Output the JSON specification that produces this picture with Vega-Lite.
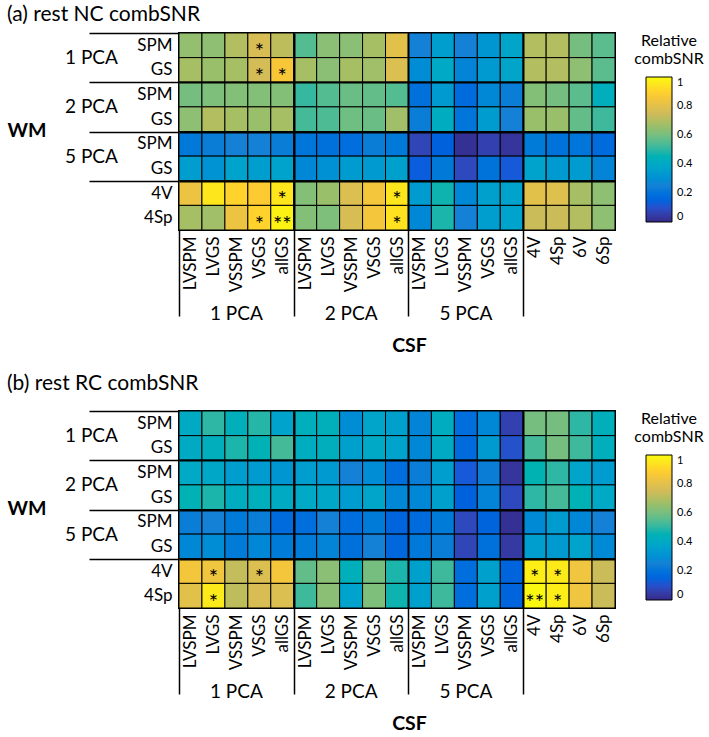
{
"$schema": "https://vega.github.io/schema/vega-lite/v6.json",
"padding": {"left": 6, "top": 3, "right": 0, "bottom": 0},
"config": {"font": "Lato", "view": {"stroke": "black", "strokeWidth": 2}, "axis": {"labelColor": "black", "titleColor": "black", "labelFont": "Lato", "titleFont": "Lato"}, "legend": {"labelColor": "black", "titleColor": "black"}},
"datasets": {"cells": [
{"p":"a","r":"1 PCA|SPM","c":"1 PCA|LVSPM","v":0.65},{"p":"a","r":"1 PCA|SPM","c":"1 PCA|LVGS","v":0.64},{"p":"a","r":"1 PCA|SPM","c":"1 PCA|VSSPM","v":0.70},{"p":"a","r":"1 PCA|SPM","c":"1 PCA|VSGS","v":0.77,"s":"*"},{"p":"a","r":"1 PCA|SPM","c":"1 PCA|allGS","v":0.72},
{"p":"a","r":"1 PCA|SPM","c":"2 PCA|LVSPM","v":0.55},{"p":"a","r":"1 PCA|SPM","c":"2 PCA|LVGS","v":0.63},{"p":"a","r":"1 PCA|SPM","c":"2 PCA|VSSPM","v":0.63},{"p":"a","r":"1 PCA|SPM","c":"2 PCA|VSGS","v":0.68},{"p":"a","r":"1 PCA|SPM","c":"2 PCA|allGS","v":0.80},
{"p":"a","r":"1 PCA|SPM","c":"5 PCA|LVSPM","v":0.25},{"p":"a","r":"1 PCA|SPM","c":"5 PCA|LVGS","v":0.35},{"p":"a","r":"1 PCA|SPM","c":"5 PCA|VSSPM","v":0.25},{"p":"a","r":"1 PCA|SPM","c":"5 PCA|VSGS","v":0.32},{"p":"a","r":"1 PCA|SPM","c":"5 PCA|allGS","v":0.38},
{"p":"a","r":"1 PCA|SPM","c":"other|4V","v":0.70},{"p":"a","r":"1 PCA|SPM","c":"other|4Sp","v":0.70},{"p":"a","r":"1 PCA|SPM","c":"other|6V","v":0.60},{"p":"a","r":"1 PCA|SPM","c":"other|6Sp","v":0.56},
{"p":"a","r":"1 PCA|GS","c":"1 PCA|LVSPM","v":0.68},{"p":"a","r":"1 PCA|GS","c":"1 PCA|LVGS","v":0.66},{"p":"a","r":"1 PCA|GS","c":"1 PCA|VSSPM","v":0.68},{"p":"a","r":"1 PCA|GS","c":"1 PCA|VSGS","v":0.76,"s":"*"},{"p":"a","r":"1 PCA|GS","c":"1 PCA|allGS","v":0.86,"s":"*"},
{"p":"a","r":"1 PCA|GS","c":"2 PCA|LVSPM","v":0.68},{"p":"a","r":"1 PCA|GS","c":"2 PCA|LVGS","v":0.63},{"p":"a","r":"1 PCA|GS","c":"2 PCA|VSSPM","v":0.68},{"p":"a","r":"1 PCA|GS","c":"2 PCA|VSGS","v":0.67},{"p":"a","r":"1 PCA|GS","c":"2 PCA|allGS","v":0.78},
{"p":"a","r":"1 PCA|GS","c":"5 PCA|LVSPM","v":0.29},{"p":"a","r":"1 PCA|GS","c":"5 PCA|LVGS","v":0.40},{"p":"a","r":"1 PCA|GS","c":"5 PCA|VSSPM","v":0.26},{"p":"a","r":"1 PCA|GS","c":"5 PCA|VSGS","v":0.33},{"p":"a","r":"1 PCA|GS","c":"5 PCA|allGS","v":0.38},
{"p":"a","r":"1 PCA|GS","c":"other|4V","v":0.70},{"p":"a","r":"1 PCA|GS","c":"other|4Sp","v":0.70},{"p":"a","r":"1 PCA|GS","c":"other|6V","v":0.64},{"p":"a","r":"1 PCA|GS","c":"other|6Sp","v":0.56},
{"p":"a","r":"2 PCA|SPM","c":"1 PCA|LVSPM","v":0.60},{"p":"a","r":"2 PCA|SPM","c":"1 PCA|LVGS","v":0.61},{"p":"a","r":"2 PCA|SPM","c":"1 PCA|VSSPM","v":0.62},{"p":"a","r":"2 PCA|SPM","c":"1 PCA|VSGS","v":0.62},{"p":"a","r":"2 PCA|SPM","c":"1 PCA|allGS","v":0.62},
{"p":"a","r":"2 PCA|SPM","c":"2 PCA|LVSPM","v":0.51},{"p":"a","r":"2 PCA|SPM","c":"2 PCA|LVGS","v":0.55},{"p":"a","r":"2 PCA|SPM","c":"2 PCA|VSSPM","v":0.58},{"p":"a","r":"2 PCA|SPM","c":"2 PCA|VSGS","v":0.57},{"p":"a","r":"2 PCA|SPM","c":"2 PCA|allGS","v":0.55},
{"p":"a","r":"2 PCA|SPM","c":"5 PCA|LVSPM","v":0.19},{"p":"a","r":"2 PCA|SPM","c":"5 PCA|LVGS","v":0.33},{"p":"a","r":"2 PCA|SPM","c":"5 PCA|VSSPM","v":0.17},{"p":"a","r":"2 PCA|SPM","c":"5 PCA|VSGS","v":0.27},{"p":"a","r":"2 PCA|SPM","c":"5 PCA|allGS","v":0.24},
{"p":"a","r":"2 PCA|SPM","c":"other|4V","v":0.62},{"p":"a","r":"2 PCA|SPM","c":"other|4Sp","v":0.60},{"p":"a","r":"2 PCA|SPM","c":"other|6V","v":0.56},{"p":"a","r":"2 PCA|SPM","c":"other|6Sp","v":0.43},
{"p":"a","r":"2 PCA|GS","c":"1 PCA|LVSPM","v":0.64},{"p":"a","r":"2 PCA|GS","c":"1 PCA|LVGS","v":0.70},{"p":"a","r":"2 PCA|GS","c":"1 PCA|VSSPM","v":0.68},{"p":"a","r":"2 PCA|GS","c":"1 PCA|VSGS","v":0.66},{"p":"a","r":"2 PCA|GS","c":"1 PCA|allGS","v":0.68},
{"p":"a","r":"2 PCA|GS","c":"2 PCA|LVSPM","v":0.53},{"p":"a","r":"2 PCA|GS","c":"2 PCA|LVGS","v":0.54},{"p":"a","r":"2 PCA|GS","c":"2 PCA|VSSPM","v":0.59},{"p":"a","r":"2 PCA|GS","c":"2 PCA|VSGS","v":0.58},{"p":"a","r":"2 PCA|GS","c":"2 PCA|allGS","v":0.67},
{"p":"a","r":"2 PCA|GS","c":"5 PCA|LVSPM","v":0.24},{"p":"a","r":"2 PCA|GS","c":"5 PCA|LVGS","v":0.42},{"p":"a","r":"2 PCA|GS","c":"5 PCA|VSSPM","v":0.21},{"p":"a","r":"2 PCA|GS","c":"5 PCA|VSGS","v":0.34},{"p":"a","r":"2 PCA|GS","c":"5 PCA|allGS","v":0.25},
{"p":"a","r":"2 PCA|GS","c":"other|4V","v":0.66},{"p":"a","r":"2 PCA|GS","c":"other|4Sp","v":0.66},{"p":"a","r":"2 PCA|GS","c":"other|6V","v":0.57},{"p":"a","r":"2 PCA|GS","c":"other|6Sp","v":0.52},
{"p":"a","r":"5 PCA|SPM","c":"1 PCA|LVSPM","v":0.22},{"p":"a","r":"5 PCA|SPM","c":"1 PCA|LVGS","v":0.24},{"p":"a","r":"5 PCA|SPM","c":"1 PCA|VSSPM","v":0.25},{"p":"a","r":"5 PCA|SPM","c":"1 PCA|VSGS","v":0.25},{"p":"a","r":"5 PCA|SPM","c":"1 PCA|allGS","v":0.24},
{"p":"a","r":"5 PCA|SPM","c":"2 PCA|LVSPM","v":0.21},{"p":"a","r":"5 PCA|SPM","c":"2 PCA|LVGS","v":0.19},{"p":"a","r":"5 PCA|SPM","c":"2 PCA|VSSPM","v":0.18},{"p":"a","r":"5 PCA|SPM","c":"2 PCA|VSGS","v":0.24},{"p":"a","r":"5 PCA|SPM","c":"2 PCA|allGS","v":0.22},
{"p":"a","r":"5 PCA|SPM","c":"5 PCA|LVSPM","v":0.07},{"p":"a","r":"5 PCA|SPM","c":"5 PCA|LVGS","v":0.14},{"p":"a","r":"5 PCA|SPM","c":"5 PCA|VSSPM","v":0.02},{"p":"a","r":"5 PCA|SPM","c":"5 PCA|VSGS","v":0.06},{"p":"a","r":"5 PCA|SPM","c":"5 PCA|allGS","v":0.03},
{"p":"a","r":"5 PCA|SPM","c":"other|4V","v":0.23},{"p":"a","r":"5 PCA|SPM","c":"other|4Sp","v":0.20},{"p":"a","r":"5 PCA|SPM","c":"other|6V","v":0.21},{"p":"a","r":"5 PCA|SPM","c":"other|6Sp","v":0.17},
{"p":"a","r":"5 PCA|GS","c":"1 PCA|LVSPM","v":0.35},{"p":"a","r":"5 PCA|GS","c":"1 PCA|LVGS","v":0.31},{"p":"a","r":"5 PCA|GS","c":"1 PCA|VSSPM","v":0.37},{"p":"a","r":"5 PCA|GS","c":"1 PCA|VSGS","v":0.35},{"p":"a","r":"5 PCA|GS","c":"1 PCA|allGS","v":0.37},
{"p":"a","r":"5 PCA|GS","c":"2 PCA|LVSPM","v":0.27},{"p":"a","r":"5 PCA|GS","c":"2 PCA|LVGS","v":0.30},{"p":"a","r":"5 PCA|GS","c":"2 PCA|VSSPM","v":0.34},{"p":"a","r":"5 PCA|GS","c":"2 PCA|VSGS","v":0.33},{"p":"a","r":"5 PCA|GS","c":"2 PCA|allGS","v":0.36},
{"p":"a","r":"5 PCA|GS","c":"5 PCA|LVSPM","v":0.13},{"p":"a","r":"5 PCA|GS","c":"5 PCA|LVGS","v":0.22},{"p":"a","r":"5 PCA|GS","c":"5 PCA|VSSPM","v":0.08},{"p":"a","r":"5 PCA|GS","c":"5 PCA|VSGS","v":0.20},{"p":"a","r":"5 PCA|GS","c":"5 PCA|allGS","v":0.12},
{"p":"a","r":"5 PCA|GS","c":"other|4V","v":0.37},{"p":"a","r":"5 PCA|GS","c":"other|4Sp","v":0.33},{"p":"a","r":"5 PCA|GS","c":"other|6V","v":0.34},{"p":"a","r":"5 PCA|GS","c":"other|6Sp","v":0.26},
{"p":"a","r":"other|4V","c":"1 PCA|LVSPM","v":0.83},{"p":"a","r":"other|4V","c":"1 PCA|LVGS","v":0.95},{"p":"a","r":"other|4V","c":"1 PCA|VSSPM","v":0.90},{"p":"a","r":"other|4V","c":"1 PCA|VSGS","v":0.88},{"p":"a","r":"other|4V","c":"1 PCA|allGS","v":0.95,"s":"*"},
{"p":"a","r":"other|4V","c":"2 PCA|LVSPM","v":0.62},{"p":"a","r":"other|4V","c":"2 PCA|LVGS","v":0.66},{"p":"a","r":"other|4V","c":"2 PCA|VSSPM","v":0.78},{"p":"a","r":"other|4V","c":"2 PCA|VSGS","v":0.85},{"p":"a","r":"other|4V","c":"2 PCA|allGS","v":0.95,"s":"*"},
{"p":"a","r":"other|4V","c":"5 PCA|LVSPM","v":0.34},{"p":"a","r":"other|4V","c":"5 PCA|LVGS","v":0.47},{"p":"a","r":"other|4V","c":"5 PCA|VSSPM","v":0.27},{"p":"a","r":"other|4V","c":"5 PCA|VSGS","v":0.36},{"p":"a","r":"other|4V","c":"5 PCA|allGS","v":0.37},
{"p":"a","r":"other|4V","c":"other|4V","v":0.80},{"p":"a","r":"other|4V","c":"other|4Sp","v":0.79},{"p":"a","r":"other|4V","c":"other|6V","v":0.68},{"p":"a","r":"other|4V","c":"other|6Sp","v":0.64},
{"p":"a","r":"other|4Sp","c":"1 PCA|LVSPM","v":0.68},{"p":"a","r":"other|4Sp","c":"1 PCA|LVGS","v":0.67},{"p":"a","r":"other|4Sp","c":"1 PCA|VSSPM","v":0.83},{"p":"a","r":"other|4Sp","c":"1 PCA|VSGS","v":0.90,"s":"*"},{"p":"a","r":"other|4Sp","c":"1 PCA|allGS","v":0.98,"s":"**"},
{"p":"a","r":"other|4Sp","c":"2 PCA|LVSPM","v":0.62},{"p":"a","r":"other|4Sp","c":"2 PCA|LVGS","v":0.61},{"p":"a","r":"other|4Sp","c":"2 PCA|VSSPM","v":0.77},{"p":"a","r":"other|4Sp","c":"2 PCA|VSGS","v":0.85},{"p":"a","r":"other|4Sp","c":"2 PCA|allGS","v":0.94,"s":"*"},
{"p":"a","r":"other|4Sp","c":"5 PCA|LVSPM","v":0.27},{"p":"a","r":"other|4Sp","c":"5 PCA|LVGS","v":0.48},{"p":"a","r":"other|4Sp","c":"5 PCA|VSSPM","v":0.25},{"p":"a","r":"other|4Sp","c":"5 PCA|VSGS","v":0.35},{"p":"a","r":"other|4Sp","c":"5 PCA|allGS","v":0.37},
{"p":"a","r":"other|4Sp","c":"other|4V","v":0.74},{"p":"a","r":"other|4Sp","c":"other|4Sp","v":0.74},{"p":"a","r":"other|4Sp","c":"other|6V","v":0.70},{"p":"a","r":"other|4Sp","c":"other|6Sp","v":0.64},
{"p":"b","r":"1 PCA|SPM","c":"1 PCA|LVSPM","v":0.41},{"p":"b","r":"1 PCA|SPM","c":"1 PCA|LVGS","v":0.50},{"p":"b","r":"1 PCA|SPM","c":"1 PCA|VSSPM","v":0.44},{"p":"b","r":"1 PCA|SPM","c":"1 PCA|VSGS","v":0.49},{"p":"b","r":"1 PCA|SPM","c":"1 PCA|allGS","v":0.37},
{"p":"b","r":"1 PCA|SPM","c":"2 PCA|LVSPM","v":0.43},{"p":"b","r":"1 PCA|SPM","c":"2 PCA|LVGS","v":0.44},{"p":"b","r":"1 PCA|SPM","c":"2 PCA|VSSPM","v":0.29},{"p":"b","r":"1 PCA|SPM","c":"2 PCA|VSGS","v":0.38},{"p":"b","r":"1 PCA|SPM","c":"2 PCA|allGS","v":0.36},
{"p":"b","r":"1 PCA|SPM","c":"5 PCA|LVSPM","v":0.26},{"p":"b","r":"1 PCA|SPM","c":"5 PCA|LVGS","v":0.42},{"p":"b","r":"1 PCA|SPM","c":"5 PCA|VSSPM","v":0.18},{"p":"b","r":"1 PCA|SPM","c":"5 PCA|VSGS","v":0.27},{"p":"b","r":"1 PCA|SPM","c":"5 PCA|allGS","v":0.06},
{"p":"b","r":"1 PCA|SPM","c":"other|4V","v":0.60},{"p":"b","r":"1 PCA|SPM","c":"other|4Sp","v":0.60},{"p":"b","r":"1 PCA|SPM","c":"other|6V","v":0.50},{"p":"b","r":"1 PCA|SPM","c":"other|6Sp","v":0.44},
{"p":"b","r":"1 PCA|GS","c":"1 PCA|LVSPM","v":0.41},{"p":"b","r":"1 PCA|GS","c":"1 PCA|LVGS","v":0.43},{"p":"b","r":"1 PCA|GS","c":"1 PCA|VSSPM","v":0.48},{"p":"b","r":"1 PCA|GS","c":"1 PCA|VSGS","v":0.45},{"p":"b","r":"1 PCA|GS","c":"1 PCA|allGS","v":0.53},
{"p":"b","r":"1 PCA|GS","c":"2 PCA|LVSPM","v":0.42},{"p":"b","r":"1 PCA|GS","c":"2 PCA|LVGS","v":0.43},{"p":"b","r":"1 PCA|GS","c":"2 PCA|VSSPM","v":0.36},{"p":"b","r":"1 PCA|GS","c":"2 PCA|VSGS","v":0.40},{"p":"b","r":"1 PCA|GS","c":"2 PCA|allGS","v":0.37},
{"p":"b","r":"1 PCA|GS","c":"5 PCA|LVSPM","v":0.27},{"p":"b","r":"1 PCA|GS","c":"5 PCA|LVGS","v":0.41},{"p":"b","r":"1 PCA|GS","c":"5 PCA|VSSPM","v":0.17},{"p":"b","r":"1 PCA|GS","c":"5 PCA|VSGS","v":0.33},{"p":"b","r":"1 PCA|GS","c":"5 PCA|allGS","v":0.10},
{"p":"b","r":"1 PCA|GS","c":"other|4V","v":0.53},{"p":"b","r":"1 PCA|GS","c":"other|4Sp","v":0.60},{"p":"b","r":"1 PCA|GS","c":"other|6V","v":0.52},{"p":"b","r":"1 PCA|GS","c":"other|6Sp","v":0.43},
{"p":"b","r":"2 PCA|SPM","c":"1 PCA|LVSPM","v":0.40},{"p":"b","r":"2 PCA|SPM","c":"1 PCA|LVGS","v":0.39},{"p":"b","r":"2 PCA|SPM","c":"1 PCA|VSSPM","v":0.35},{"p":"b","r":"2 PCA|SPM","c":"1 PCA|VSGS","v":0.34},{"p":"b","r":"2 PCA|SPM","c":"1 PCA|allGS","v":0.32},
{"p":"b","r":"2 PCA|SPM","c":"2 PCA|LVSPM","v":0.35},{"p":"b","r":"2 PCA|SPM","c":"2 PCA|LVGS","v":0.33},{"p":"b","r":"2 PCA|SPM","c":"2 PCA|VSSPM","v":0.25},{"p":"b","r":"2 PCA|SPM","c":"2 PCA|VSGS","v":0.29},{"p":"b","r":"2 PCA|SPM","c":"2 PCA|allGS","v":0.18},
{"p":"b","r":"2 PCA|SPM","c":"5 PCA|LVSPM","v":0.24},{"p":"b","r":"2 PCA|SPM","c":"5 PCA|LVGS","v":0.35},{"p":"b","r":"2 PCA|SPM","c":"5 PCA|VSSPM","v":0.12},{"p":"b","r":"2 PCA|SPM","c":"5 PCA|VSGS","v":0.24},{"p":"b","r":"2 PCA|SPM","c":"5 PCA|allGS","v":0.03},
{"p":"b","r":"2 PCA|SPM","c":"other|4V","v":0.46},{"p":"b","r":"2 PCA|SPM","c":"other|4Sp","v":0.50},{"p":"b","r":"2 PCA|SPM","c":"other|6V","v":0.38},{"p":"b","r":"2 PCA|SPM","c":"other|6Sp","v":0.34},
{"p":"b","r":"2 PCA|GS","c":"1 PCA|LVSPM","v":0.45},{"p":"b","r":"2 PCA|GS","c":"1 PCA|LVGS","v":0.48},{"p":"b","r":"2 PCA|GS","c":"1 PCA|VSSPM","v":0.42},{"p":"b","r":"2 PCA|GS","c":"1 PCA|VSGS","v":0.43},{"p":"b","r":"2 PCA|GS","c":"1 PCA|allGS","v":0.41},
{"p":"b","r":"2 PCA|GS","c":"2 PCA|LVSPM","v":0.40},{"p":"b","r":"2 PCA|GS","c":"2 PCA|LVGS","v":0.39},{"p":"b","r":"2 PCA|GS","c":"2 PCA|VSSPM","v":0.34},{"p":"b","r":"2 PCA|GS","c":"2 PCA|VSGS","v":0.38},{"p":"b","r":"2 PCA|GS","c":"2 PCA|allGS","v":0.27},
{"p":"b","r":"2 PCA|GS","c":"5 PCA|LVSPM","v":0.27},{"p":"b","r":"2 PCA|GS","c":"5 PCA|LVGS","v":0.36},{"p":"b","r":"2 PCA|GS","c":"5 PCA|VSSPM","v":0.14},{"p":"b","r":"2 PCA|GS","c":"5 PCA|VSGS","v":0.26},{"p":"b","r":"2 PCA|GS","c":"5 PCA|allGS","v":0.08},
{"p":"b","r":"2 PCA|GS","c":"other|4V","v":0.50},{"p":"b","r":"2 PCA|GS","c":"other|4Sp","v":0.53},{"p":"b","r":"2 PCA|GS","c":"other|6V","v":0.45},{"p":"b","r":"2 PCA|GS","c":"other|6Sp","v":0.40},
{"p":"b","r":"5 PCA|SPM","c":"1 PCA|LVSPM","v":0.24},{"p":"b","r":"5 PCA|SPM","c":"1 PCA|LVGS","v":0.25},{"p":"b","r":"5 PCA|SPM","c":"1 PCA|VSSPM","v":0.23},{"p":"b","r":"5 PCA|SPM","c":"1 PCA|VSGS","v":0.24},{"p":"b","r":"5 PCA|SPM","c":"1 PCA|allGS","v":0.17},
{"p":"b","r":"5 PCA|SPM","c":"2 PCA|LVSPM","v":0.18},{"p":"b","r":"5 PCA|SPM","c":"2 PCA|LVGS","v":0.25},{"p":"b","r":"5 PCA|SPM","c":"2 PCA|VSSPM","v":0.18},{"p":"b","r":"5 PCA|SPM","c":"2 PCA|VSGS","v":0.23},{"p":"b","r":"5 PCA|SPM","c":"2 PCA|allGS","v":0.15},
{"p":"b","r":"5 PCA|SPM","c":"5 PCA|LVSPM","v":0.17},{"p":"b","r":"5 PCA|SPM","c":"5 PCA|LVGS","v":0.23},{"p":"b","r":"5 PCA|SPM","c":"5 PCA|VSSPM","v":0.08},{"p":"b","r":"5 PCA|SPM","c":"5 PCA|VSGS","v":0.15},{"p":"b","r":"5 PCA|SPM","c":"5 PCA|allGS","v":0.02},
{"p":"b","r":"5 PCA|SPM","c":"other|4V","v":0.28},{"p":"b","r":"5 PCA|SPM","c":"other|4Sp","v":0.34},{"p":"b","r":"5 PCA|SPM","c":"other|6V","v":0.27},{"p":"b","r":"5 PCA|SPM","c":"other|6Sp","v":0.25},
{"p":"b","r":"5 PCA|GS","c":"1 PCA|LVSPM","v":0.27},{"p":"b","r":"5 PCA|GS","c":"1 PCA|LVGS","v":0.29},{"p":"b","r":"5 PCA|GS","c":"1 PCA|VSSPM","v":0.23},{"p":"b","r":"5 PCA|GS","c":"1 PCA|VSGS","v":0.27},{"p":"b","r":"5 PCA|GS","c":"1 PCA|allGS","v":0.23},
{"p":"b","r":"5 PCA|GS","c":"2 PCA|LVSPM","v":0.23},{"p":"b","r":"5 PCA|GS","c":"2 PCA|LVGS","v":0.26},{"p":"b","r":"5 PCA|GS","c":"2 PCA|VSSPM","v":0.19},{"p":"b","r":"5 PCA|GS","c":"2 PCA|VSGS","v":0.25},{"p":"b","r":"5 PCA|GS","c":"2 PCA|allGS","v":0.16},
{"p":"b","r":"5 PCA|GS","c":"5 PCA|LVSPM","v":0.22},{"p":"b","r":"5 PCA|GS","c":"5 PCA|LVGS","v":0.24},{"p":"b","r":"5 PCA|GS","c":"5 PCA|VSSPM","v":0.07},{"p":"b","r":"5 PCA|GS","c":"5 PCA|VSGS","v":0.19},{"p":"b","r":"5 PCA|GS","c":"5 PCA|allGS","v":0.04},
{"p":"b","r":"5 PCA|GS","c":"other|4V","v":0.35},{"p":"b","r":"5 PCA|GS","c":"other|4Sp","v":0.33},{"p":"b","r":"5 PCA|GS","c":"other|6V","v":0.37},{"p":"b","r":"5 PCA|GS","c":"other|6Sp","v":0.28},
{"p":"b","r":"other|4V","c":"1 PCA|LVSPM","v":0.85},{"p":"b","r":"other|4V","c":"1 PCA|LVGS","v":0.84,"s":"*"},{"p":"b","r":"other|4V","c":"1 PCA|VSSPM","v":0.73},{"p":"b","r":"other|4V","c":"1 PCA|VSGS","v":0.78,"s":"*"},{"p":"b","r":"other|4V","c":"1 PCA|allGS","v":0.85},
{"p":"b","r":"other|4V","c":"2 PCA|LVSPM","v":0.57},{"p":"b","r":"other|4V","c":"2 PCA|LVGS","v":0.63},{"p":"b","r":"other|4V","c":"2 PCA|VSSPM","v":0.44},{"p":"b","r":"other|4V","c":"2 PCA|VSGS","v":0.60},{"p":"b","r":"other|4V","c":"2 PCA|allGS","v":0.48},
{"p":"b","r":"other|4V","c":"5 PCA|LVSPM","v":0.36},{"p":"b","r":"other|4V","c":"5 PCA|LVGS","v":0.52},{"p":"b","r":"other|4V","c":"5 PCA|VSSPM","v":0.18},{"p":"b","r":"other|4V","c":"5 PCA|VSGS","v":0.36},{"p":"b","r":"other|4V","c":"5 PCA|allGS","v":0.15},
{"p":"b","r":"other|4V","c":"other|4V","v":0.97,"s":"*"},{"p":"b","r":"other|4V","c":"other|4Sp","v":0.96,"s":"*"},{"p":"b","r":"other|4V","c":"other|6V","v":0.84},{"p":"b","r":"other|4V","c":"other|6Sp","v":0.74},
{"p":"b","r":"other|4Sp","c":"1 PCA|LVSPM","v":0.80},{"p":"b","r":"other|4Sp","c":"1 PCA|LVGS","v":0.96,"s":"*"},{"p":"b","r":"other|4Sp","c":"1 PCA|VSSPM","v":0.72},{"p":"b","r":"other|4Sp","c":"1 PCA|VSGS","v":0.77},{"p":"b","r":"other|4Sp","c":"1 PCA|allGS","v":0.78},
{"p":"b","r":"other|4Sp","c":"2 PCA|LVSPM","v":0.52},{"p":"b","r":"other|4Sp","c":"2 PCA|LVGS","v":0.63},{"p":"b","r":"other|4Sp","c":"2 PCA|VSSPM","v":0.37},{"p":"b","r":"other|4Sp","c":"2 PCA|VSGS","v":0.61},{"p":"b","r":"other|4Sp","c":"2 PCA|allGS","v":0.47},
{"p":"b","r":"other|4Sp","c":"5 PCA|LVSPM","v":0.36},{"p":"b","r":"other|4Sp","c":"5 PCA|LVGS","v":0.52},{"p":"b","r":"other|4Sp","c":"5 PCA|VSSPM","v":0.18},{"p":"b","r":"other|4Sp","c":"5 PCA|VSGS","v":0.36},{"p":"b","r":"other|4Sp","c":"5 PCA|allGS","v":0.15},
{"p":"b","r":"other|4Sp","c":"other|4V","v":0.99,"s":"**"},{"p":"b","r":"other|4Sp","c":"other|4Sp","v":0.97,"s":"*"},{"p":"b","r":"other|4Sp","c":"other|6V","v":0.84},{"p":"b","r":"other|4Sp","c":"other|6Sp","v":0.74}
],
"groups": [{"g":"1 PCA","c":"1 PCA|VSSPM"},{"g":"2 PCA","c":"2 PCA|VSSPM"},{"g":"5 PCA","c":"5 PCA|VSSPM"},{"g":"other","c":"other|4Sp"}]
},
"resolve": {"scale": {"color": "independent"}},
"spacing": 16,
"vconcat": [
{
"title": {"text": "(a) rest NC combSNR", "anchor": "start", "frame": "bounds", "fontSize": 21, "fontWeight": "normal", "color": "black", "offset": -1},
"width": 436, "height": 197,
"resolve": {"scale": {"x": "independent", "y": "independent"}},
"layer": [
{"data": {"name": "cells"}, "transform": [{"filter": "datum.p == 'a'"}],
"mark": {"type": "rect", "stroke": "black", "strokeWidth": 1},
"encoding": {
"x": {"field": "c", "type": "nominal", "scale": {"type": "band", "paddingInner": 0, "paddingOuter": 0, "domain": ["1 PCA|LVSPM","1 PCA|LVGS","1 PCA|VSSPM","1 PCA|VSGS","1 PCA|allGS","2 PCA|LVSPM","2 PCA|LVGS","2 PCA|VSSPM","2 PCA|VSGS","2 PCA|allGS","5 PCA|LVSPM","5 PCA|LVGS","5 PCA|VSSPM","5 PCA|VSGS","5 PCA|allGS","other|4V","other|4Sp","other|6V","other|6Sp"]},
"axis": {"title": null, "domain": false, "zindex": 1, "ticks": true, "tickBand": "extent", "tickSize": 86, "tickColor": "black", "tickWidth": 1.5,
"tickOpacity": {"condition": {"test": "datum.extra || indexof(['1 PCA|allGS','2 PCA|allGS','5 PCA|allGS'], datum.value) >= 0", "value": 1}, "value": 0},
"grid": true, "gridColor": "black", "gridWidth": 2,
"gridOpacity": {"condition": {"test": "indexof(['1 PCA|allGS','2 PCA|allGS','5 PCA|allGS'], datum.value) >= 0", "value": 1}, "value": 0},
"labelAngle": 270, "labelExpr": "split(datum.value, '|')[1]", "labelFontSize": 17, "labelPadding": -80, "labelOverlap": false, "labelFlush": false, "labelBound": false}},
"y": {"field": "r", "type": "nominal", "scale": {"type": "band", "paddingInner": 0, "paddingOuter": 0, "domain": ["1 PCA|SPM","1 PCA|GS","2 PCA|SPM","2 PCA|GS","5 PCA|SPM","5 PCA|GS","other|4V","other|4Sp"]},
"axis": {"title": null, "domain": false, "ticks": false, "zindex": 1, "tickBand": "extent", "grid": true, "gridColor": "black", "gridWidth": 2,
"gridOpacity": {"condition": {"test": "indexof(['1 PCA|GS','2 PCA|GS','5 PCA|GS'], datum.value) >= 0", "value": 1}, "value": 0},
"labelExpr": "split(datum.value, '|')[1]", "labelFontSize": 17, "labelPadding": 7, "labelOverlap": false}},
"color": {"field": "v", "type": "quantitative", "scale": {"domain": [0,0.125,0.25,0.375,0.5,0.625,0.75,0.875,1], "range": ["#352a87","#0f5cdd","#1481d6","#06a4ca","#2eb7a4","#87bf77","#d1bb59","#fec832","#f9fb0e"]},
"legend": {"title": ["Relative","combSNR"], "titleFontSize": 16, "titleFontWeight": "normal", "titlePadding": 10, "titleAlign": "center", "titleAnchor": "middle", "gradientLength": 145, "gradientThickness": 26, "gradientStrokeColor": "black", "gradientStrokeWidth": 1, "values": [0,0.2,0.4,0.6,0.8,1], "labelExpr": "datum.value == 0 ? '0' : datum.value == 1 ? '1' : format(datum.value, '.1f')", "labelFontSize": 11, "labelOffset": 5, "offset": 19, "orient": "right", "direction": "vertical"}}
}},
{"data": {"name": "cells"}, "transform": [{"filter": "datum.p == 'a' && isValid(datum.s)"}],
"mark": {"type": "text", "fontSize": 22, "color": "black", "baseline": "middle", "dy": 7},
"encoding": {
"x": {"field": "c", "type": "nominal", "bandPosition": 0.5, "scale": {"type": "band", "paddingInner": 0, "paddingOuter": 0, "domain": ["1 PCA|LVSPM","1 PCA|LVGS","1 PCA|VSSPM","1 PCA|VSGS","1 PCA|allGS","2 PCA|LVSPM","2 PCA|LVGS","2 PCA|VSSPM","2 PCA|VSGS","2 PCA|allGS","5 PCA|LVSPM","5 PCA|LVGS","5 PCA|VSSPM","5 PCA|VSGS","5 PCA|allGS","other|4V","other|4Sp","other|6V","other|6Sp"]}, "axis": null},
"y": {"field": "r", "type": "nominal", "bandPosition": 0.5, "scale": {"type": "band", "paddingInner": 0, "paddingOuter": 0, "domain": ["1 PCA|SPM","1 PCA|GS","2 PCA|SPM","2 PCA|GS","5 PCA|SPM","5 PCA|GS","other|4V","other|4Sp"]}, "axis": null},
"text": {"field": "s"}
}},
{"data": {"name": "groups"},
"mark": {"type": "text", "text": ""},
"encoding": {
"x": {"field": "c", "type": "nominal", "scale": {"type": "band", "paddingInner": 0, "paddingOuter": 0, "domain": ["1 PCA|LVSPM","1 PCA|LVGS","1 PCA|VSSPM","1 PCA|VSGS","1 PCA|allGS","2 PCA|LVSPM","2 PCA|LVGS","2 PCA|VSSPM","2 PCA|VSGS","2 PCA|allGS","5 PCA|LVSPM","5 PCA|LVGS","5 PCA|VSSPM","5 PCA|VSGS","5 PCA|allGS","other|4V","other|4Sp","other|6V","other|6Sp"]},
"axis": {"orient": "bottom", "domain": false, "ticks": false, "grid": false, "labelAngle": 0, "labelExpr": "indexof(['1 PCA|VSSPM','2 PCA|VSSPM','5 PCA|VSSPM'], datum.value) >= 0 ? split(datum.value, '|')[0] : ''", "labelFontSize": 19, "labelPadding": 74, "labelBaseline": "top", "labelOverlap": false, "title": "CSF", "titleFontSize": 19.5, "titleFontWeight": "bold", "titlePadding": 13, "titleX": 230}},
"y": {"field": "g", "type": "nominal", "scale": {"type": "band", "paddingInner": 0, "paddingOuter": 0, "domain": ["1 PCA","2 PCA","5 PCA","other"]},
"axis": {"orient": "left", "domain": false, "grid": false, "ticks": true, "tickBand": "extent", "tickSize": 90, "tickColor": "black", "tickWidth": 1.5,
"tickOpacity": {"condition": {"test": "datum.extra || indexof(['1 PCA','2 PCA','5 PCA'], datum.value) >= 0", "value": 1}, "value": 0},
"labelExpr": "datum.value == 'other' ? '' : datum.value", "labelAlign": "center", "labelPadding": -2, "labelFontSize": 19, "labelOverlap": false,
"title": "WM", "titleAngle": 0, "titleFontWeight": "bold", "titleFontSize": 19.5, "titleAlign": "left", "titleBaseline": "middle", "titleX": -172, "titleY": 97}}
}}
]
},
{
"title": {"text": "(b) rest RC combSNR", "anchor": "start", "frame": "bounds", "fontSize": 21, "fontWeight": "normal", "color": "black", "offset": 8},
"width": 436, "height": 197,
"resolve": {"scale": {"x": "independent", "y": "independent"}},
"layer": [
{"data": {"name": "cells"}, "transform": [{"filter": "datum.p == 'b'"}],
"mark": {"type": "rect", "stroke": "black", "strokeWidth": 1},
"encoding": {
"x": {"field": "c", "type": "nominal", "scale": {"type": "band", "paddingInner": 0, "paddingOuter": 0, "domain": ["1 PCA|LVSPM","1 PCA|LVGS","1 PCA|VSSPM","1 PCA|VSGS","1 PCA|allGS","2 PCA|LVSPM","2 PCA|LVGS","2 PCA|VSSPM","2 PCA|VSGS","2 PCA|allGS","5 PCA|LVSPM","5 PCA|LVGS","5 PCA|VSSPM","5 PCA|VSGS","5 PCA|allGS","other|4V","other|4Sp","other|6V","other|6Sp"]},
"axis": {"title": null, "domain": false, "zindex": 1, "ticks": true, "tickBand": "extent", "tickSize": 86, "tickColor": "black", "tickWidth": 1.5,
"tickOpacity": {"condition": {"test": "datum.extra || indexof(['1 PCA|allGS','2 PCA|allGS','5 PCA|allGS'], datum.value) >= 0", "value": 1}, "value": 0},
"grid": true, "gridColor": "black", "gridWidth": 2,
"gridOpacity": {"condition": {"test": "indexof(['1 PCA|allGS','2 PCA|allGS','5 PCA|allGS'], datum.value) >= 0", "value": 1}, "value": 0},
"labelAngle": 270, "labelExpr": "split(datum.value, '|')[1]", "labelFontSize": 17, "labelPadding": -80, "labelOverlap": false, "labelFlush": false, "labelBound": false}},
"y": {"field": "r", "type": "nominal", "scale": {"type": "band", "paddingInner": 0, "paddingOuter": 0, "domain": ["1 PCA|SPM","1 PCA|GS","2 PCA|SPM","2 PCA|GS","5 PCA|SPM","5 PCA|GS","other|4V","other|4Sp"]},
"axis": {"title": null, "domain": false, "ticks": false, "zindex": 1, "tickBand": "extent", "grid": true, "gridColor": "black", "gridWidth": 2,
"gridOpacity": {"condition": {"test": "indexof(['1 PCA|GS','2 PCA|GS','5 PCA|GS'], datum.value) >= 0", "value": 1}, "value": 0},
"labelExpr": "split(datum.value, '|')[1]", "labelFontSize": 17, "labelPadding": 7, "labelOverlap": false}},
"color": {"field": "v", "type": "quantitative", "scale": {"domain": [0,0.125,0.25,0.375,0.5,0.625,0.75,0.875,1], "range": ["#352a87","#0f5cdd","#1481d6","#06a4ca","#2eb7a4","#87bf77","#d1bb59","#fec832","#f9fb0e"]},
"legend": {"title": ["Relative","combSNR"], "titleFontSize": 16, "titleFontWeight": "normal", "titlePadding": 10, "titleAlign": "center", "titleAnchor": "middle", "gradientLength": 145, "gradientThickness": 26, "gradientStrokeColor": "black", "gradientStrokeWidth": 1, "values": [0,0.2,0.4,0.6,0.8,1], "labelExpr": "datum.value == 0 ? '0' : datum.value == 1 ? '1' : format(datum.value, '.1f')", "labelFontSize": 11, "labelOffset": 5, "offset": 19, "orient": "right", "direction": "vertical"}}
}},
{"data": {"name": "cells"}, "transform": [{"filter": "datum.p == 'b' && isValid(datum.s)"}],
"mark": {"type": "text", "fontSize": 22, "color": "black", "baseline": "middle", "dy": 7},
"encoding": {
"x": {"field": "c", "type": "nominal", "bandPosition": 0.5, "scale": {"type": "band", "paddingInner": 0, "paddingOuter": 0, "domain": ["1 PCA|LVSPM","1 PCA|LVGS","1 PCA|VSSPM","1 PCA|VSGS","1 PCA|allGS","2 PCA|LVSPM","2 PCA|LVGS","2 PCA|VSSPM","2 PCA|VSGS","2 PCA|allGS","5 PCA|LVSPM","5 PCA|LVGS","5 PCA|VSSPM","5 PCA|VSGS","5 PCA|allGS","other|4V","other|4Sp","other|6V","other|6Sp"]}, "axis": null},
"y": {"field": "r", "type": "nominal", "bandPosition": 0.5, "scale": {"type": "band", "paddingInner": 0, "paddingOuter": 0, "domain": ["1 PCA|SPM","1 PCA|GS","2 PCA|SPM","2 PCA|GS","5 PCA|SPM","5 PCA|GS","other|4V","other|4Sp"]}, "axis": null},
"text": {"field": "s"}
}},
{"data": {"name": "groups"},
"mark": {"type": "text", "text": ""},
"encoding": {
"x": {"field": "c", "type": "nominal", "scale": {"type": "band", "paddingInner": 0, "paddingOuter": 0, "domain": ["1 PCA|LVSPM","1 PCA|LVGS","1 PCA|VSSPM","1 PCA|VSGS","1 PCA|allGS","2 PCA|LVSPM","2 PCA|LVGS","2 PCA|VSSPM","2 PCA|VSGS","2 PCA|allGS","5 PCA|LVSPM","5 PCA|LVGS","5 PCA|VSSPM","5 PCA|VSGS","5 PCA|allGS","other|4V","other|4Sp","other|6V","other|6Sp"]},
"axis": {"orient": "bottom", "domain": false, "ticks": false, "grid": false, "labelAngle": 0, "labelExpr": "indexof(['1 PCA|VSSPM','2 PCA|VSSPM','5 PCA|VSSPM'], datum.value) >= 0 ? split(datum.value, '|')[0] : ''", "labelFontSize": 19, "labelPadding": 74, "labelBaseline": "top", "labelOverlap": false, "title": "CSF", "titleFontSize": 19.5, "titleFontWeight": "bold", "titlePadding": 13, "titleX": 230}},
"y": {"field": "g", "type": "nominal", "scale": {"type": "band", "paddingInner": 0, "paddingOuter": 0, "domain": ["1 PCA","2 PCA","5 PCA","other"]},
"axis": {"orient": "left", "domain": false, "grid": false, "ticks": true, "tickBand": "extent", "tickSize": 90, "tickColor": "black", "tickWidth": 1.5,
"tickOpacity": {"condition": {"test": "datum.extra || indexof(['1 PCA','2 PCA','5 PCA'], datum.value) >= 0", "value": 1}, "value": 0},
"labelExpr": "datum.value == 'other' ? '' : datum.value", "labelAlign": "center", "labelPadding": -2, "labelFontSize": 19, "labelOverlap": false,
"title": "WM", "titleAngle": 0, "titleFontWeight": "bold", "titleFontSize": 19.5, "titleAlign": "left", "titleBaseline": "middle", "titleX": -172, "titleY": 97}}
}}
]
}
]
}
